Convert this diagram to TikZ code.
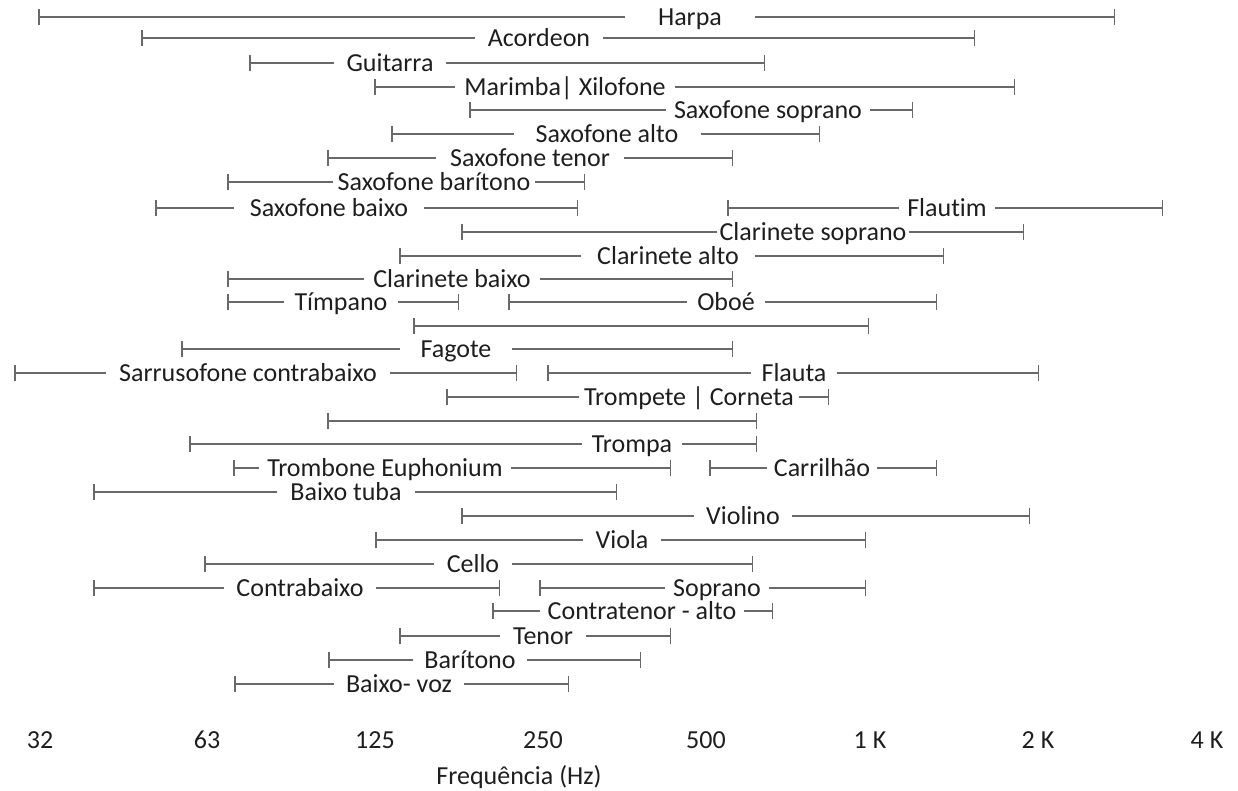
\documentclass[tikz,border=0pt]{standalone}
\usepackage{fontspec}
\setmainfont{Carlito}[Ligatures=NoCommon]
\usetikzlibrary{arrows.meta}
\definecolor{rangegray}{RGB}{105,105,105}
\definecolor{labelgray}{RGB}{30,30,30}

\begin{document}
\begin{tikzpicture}[x=1pt,y=-1pt,
  bar/.style={line width=1.5pt,color=rangegray,-{Bar[width=16pt]}},
  lbl/.style={text=labelgray,font=\fontsize{26}{30}\selectfont,text height=17pt,text depth=0pt,inner ysep=0pt}]
\useasboundingbox (0,0) rectangle (1238,790);
% ranges with a label: name/y/low/high/label x/gap/label
\foreach \n/\y/\a/\b/\c/\g/\t in {
  harpa/17/38/1115/690/33/Harpa,
  acordeon/38/141/975/539/13/Acordeon,
  guitarra/63/249/765/390/12/Guitarra,
  marimba/87/374/1015/565/9/Marimba| Xilofone,
  saxsop/110/469/913/768/8/Saxofone soprano,
  saxalto/134/391/820/607/22/Saxofone alto,
  saxten/158/327/733/530/14/Saxofone tenor,
  saxbar/182/227/585/434/4/Saxofone barítono,
  saxbaixo/208/155/578/329/16/Saxofone baixo,
  flautim/208/727/1163/947/8/Flautim,
  clsop/232/461/1024/813/2/Clarinete soprano,
  clalto/256/399/944/668/16/Clarinete alto,
  clbaixo/279/227/733/452/9/Clarinete baixo,
  timpano/302/227/459/341/10/Tímpano,
  oboe/302/508/937/726/10/Oboé,
  fagote/349/181/733/456/20/Fagote,
  sarrus/373/14/517/248/13/Sarrusofone contrabaixo,
  flauta/373/547/1039/794/10/Flauta,
  trompete/397/446/829/689/5/Trompete | Corneta,
  trompa/444/189/757/632/10/Trompa,
  trombone/468/233/671/385/8/Trombone Euphonium,
  carrilhao/468/709/937/822/7/Carrilhão,
  tuba/492/93/617/346/13/Baixo tuba,
  violino/516/461/1030/743/12/Violino,
  viola/540/375/866/622/12/Viola,
  cello/564/204/753/473/13/Cello,
  contrabaixo/588/93/500/300/12/Contrabaixo,
  soprano/588/539/866/717/8/Soprano,
  contratenor/611/492/773/642/8/Contratenor - alto,
  tenor/636/399/671/543/13/Tenor,
  baritono/660/328/641/470/11/Barítono,
  baixovoz/684/234/569/399/12/Baixo- voz}{
  \coordinate (\n-l) at (\a,\y);
  \coordinate (\n-r) at (\b,\y);
  \node[lbl,inner xsep=\g pt] (\n) at (\c,\y) {\t};
  \draw[bar] (\n) -- (\n-l);
  \draw[bar] (\n) -- (\n-r);
}
% ranges without a label
\coordinate (u1-l) at (413,326);
\coordinate (u1-r) at (869,326);
\coordinate (u2-l) at (327,421);
\coordinate (u2-r) at (757,421);
\draw[bar,{Bar[width=16pt]}-{Bar[width=16pt]}] (u1-l) -- (u1-r);
\draw[bar,{Bar[width=16pt]}-{Bar[width=16pt]}] (u2-l) -- (u2-r);
% frequency scale
\foreach \n/\x/\t in {f32/40/32,f63/207/63,f125/375/125,f250/543/250,f500/706/500,f1k/870/1 K,f2k/1038/2 K,f4k/1207/4 K}{
  \node[lbl] (\n) at (\x,740) {\t};
}
\node[lbl] (freq) at (519,776) {Frequência (Hz)};
\end{tikzpicture}
\end{document}
